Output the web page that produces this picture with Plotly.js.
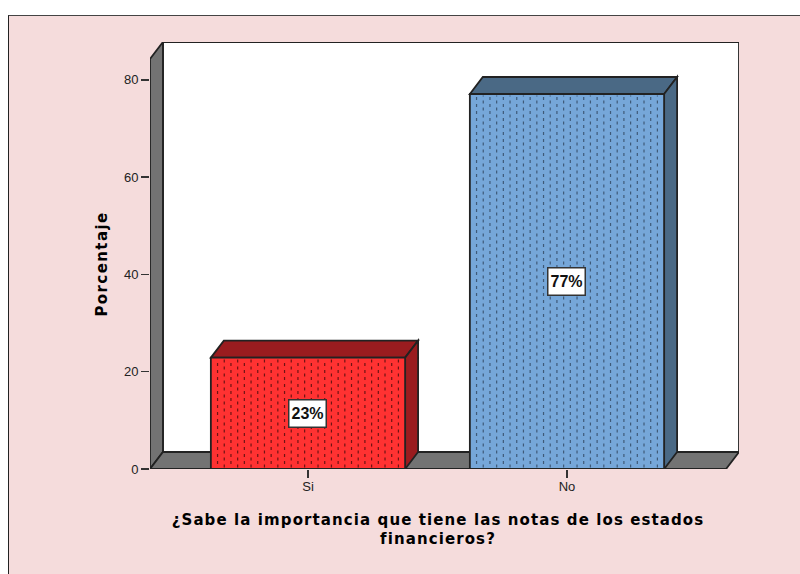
<!DOCTYPE html>
<html>
<head>
<meta charset="utf-8">
<script src="https://cdn.plot.ly/plotly-3.0.1.min.js"></script>
<style>
html,body{margin:0;padding:0;background:#fff;width:800px;height:574px;overflow:hidden}
#frame{position:absolute;left:8px;top:15px;width:791px;height:558px;border-left:1px solid #222;border-top:1px solid #444;}
#chart{width:791px;height:558px}
.x2title{letter-spacing:1.1px}
.y2title{letter-spacing:1.4px}
</style>
</head>
<body>
<div id="frame"><div id="chart"></div></div>
<script>
const categories = ["Si", "No"];
const values = [22.9, 77.1];
const labels = ["23%", "77%"];
const frontColors = ["#FF3232", "#76A7D9"];
const sideColors = ["#9A1C1F", "#4A6985"];
const dotColors = ["#6E1414", "#3F5A78"];
const xTitle = "¿Sabe la importancia que tiene las notas de los estados<br>financieros?";
const yTitle = "Porcentaje";
const yTicks = [0, 20, 40, 60, 80];

const positions = categories.map((_, i) => i);
const barWidth = 0.75, half = barWidth / 2;
const depthX = 0.05, depthY = 3.5;
const xMin = -0.61, xFront = 1.614, xBack = 1.664, yFront = 84.3, yBack = 87.8;
const wall = "#737373", edge = "#222";

function poly(points, fill) {
  return {type: "path", xref: "x", yref: "y", layer: "below",
    path: "M" + points.map(p => p.join(",")).join("L") + "Z",
    fillcolor: fill, line: {color: edge, width: 1.8}};
}
const shapes = [
  poly([[xMin + depthX, depthY], [xBack, depthY], [xBack, yBack], [xMin + depthX, yBack]], "#FFFFFF"),
  poly([[xMin, 0], [xMin + depthX, depthY], [xMin + depthX, yBack], [xMin, yFront]], wall),
  poly([[xMin, 0], [xFront, 0], [xBack, depthY], [xMin + depthX, depthY]], wall)
];
positions.forEach((p, i) => {
  const l = p - half, r = p + half, v = values[i];
  shapes.push(poly([[l, v], [l + depthX, v + depthY], [r + depthX, v + depthY], [r, v]], sideColors[i]));
  shapes.push(poly([[r, 0], [r + depthX, depthY], [r + depthX, v + depthY], [r, v]], sideColors[i]));
});

const traces = [{
  type: "bar", x: positions, y: values, width: barWidth, xaxis: "x2", yaxis: "y2",
  marker: {color: frontColors, line: {color: edge, width: 1.8}}, hoverinfo: "skip", showlegend: false
}];
const step = barWidth / 29;
positions.forEach((p, i) => {
  const xs = [], ys = [];
  for (let k = 1; k < 29; k++) {
    const x = p - half + k * step;
    xs.push(x, x, null);
    ys.push(0.3 + (k % 2) * 0.72, values[i] - 0.3, null);
  }
  traces.push({type: "scatter", mode: "lines", x: xs, y: ys, xaxis: "x2", yaxis: "y2",
    line: {color: dotColors[i], width: 1.2, dash: "3px,4px"},
    hoverinfo: "skip", showlegend: false});
});

const annotations = positions.map((p, i) => ({
  x: p, y: values[i] / 2, xref: "x2", yref: "y2", text: "<b>" + labels[i] + "</b>", showarrow: false,
  font: {family: "Liberation Sans", size: 16, color: "#111"}, width: 34, height: 24,
  bgcolor: "#FFFFFF", bordercolor: "#333", borderwidth: 1.5, borderpad: 1
}));

const titleFont = {family: "DejaVu Sans", size: 15, color: "#000", weight: 700};
const tickFont = {family: "Liberation Sans", size: 13, color: "#222"};
const layout = {
  width: 791, height: 558,
  paper_bgcolor: "#F5DCDC", plot_bgcolor: "rgba(0,0,0,0)",
  margin: {l: 141, r: 61, t: 26, b: 104.5},
  showlegend: false, shapes, annotations,
  xaxis: {domain: [0, 1], range: [xMin, xBack], visible: false, fixedrange: true},
  yaxis: {domain: [0, 1], range: [0, yBack], visible: false, fixedrange: true},
  xaxis2: {domain: [0, 576 / 589], range: [xMin, xFront], anchor: "y2", tickmode: "array",
    tickvals: positions, ticktext: categories, ticks: "outside", ticklen: 8, tickcolor: "#333", tickwidth: 1.5,
    ticklabelstandoff: -3,
    tickfont: tickFont, showgrid: false, zeroline: false, showline: false,
    title: {text: xTitle, font: titleFont, standoff: 21}},
  yaxis2: {domain: [0, 410.5 / 427.5], range: [0, yFront], anchor: "x2", tickmode: "array",
    tickvals: yTicks, ticks: "outside", ticklen: 8, tickcolor: "#333", tickwidth: 1.5,
    tickfont: tickFont, showgrid: false, zeroline: false, showline: false,
    title: {text: yTitle, font: titleFont, standoff: 12}}
};
Plotly.newPlot("chart", traces, layout, {displayModeBar: false, staticPlot: true});
</script>
</body>
</html>
